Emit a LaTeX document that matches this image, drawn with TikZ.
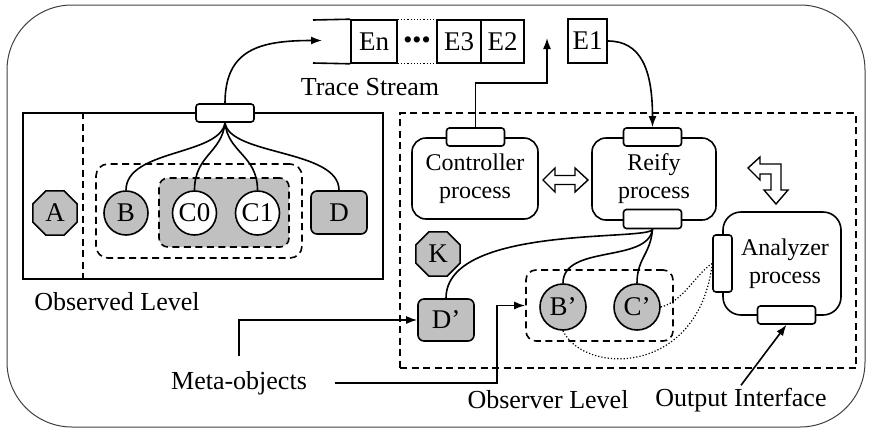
\documentclass[tikz,border=0pt]{standalone}
\usepackage{fontspec}
\setmainfont{Liberation Serif}
\usetikzlibrary{arrows.meta,shapes.geometric,calc}
\definecolor{objgray}{RGB}{192,192,192}
\begin{document}
\begin{tikzpicture}[x=1pt,y=-1pt,line width=1.6pt,
  lbl/.style={font=\fontsize{26}{28}\selectfont, inner sep=2pt},
  dsh/.style={dash pattern=on 7pt off 4.5pt},
  port/.style={draw, fill=white, rounded corners=3pt, minimum width=58pt, minimum height=18pt, inner sep=0pt},
  vport/.style={port, minimum width=19pt, minimum height=57pt},
  proc/.style={draw, rounded corners=14pt, align=center, inner sep=0pt, font=\fontsize{24}{28}\selectfont},
  obj/.style={circle, draw, fill=objgray, minimum size=44pt, inner sep=0pt, font=\fontsize{27}{28}\selectfont},
  wobj/.style={obj, fill=white},
  oct/.style={regular polygon, regular polygon sides=8, draw, fill=objgray, minimum size=48pt, inner sep=0pt, font=\fontsize{27}{28}\selectfont},
  gbox/.style={draw, fill=objgray, rounded corners=6pt, minimum width=56pt, minimum height=43pt, inner sep=0pt, font=\fontsize{27}{28}\selectfont},
  cell/.style={draw, minimum height=43pt, inner sep=0pt, font=\fontsize{27}{28}\selectfont},
  arr/.style={-{Latex[length=11pt,width=8pt]}},
  blockarrow/.style={draw, fill=white, line width=1.4pt, line join=miter}
]
\useasboundingbox (0,0) rectangle (871,429);

% outer frame
\draw[line width=1pt, black!75, rounded corners=65pt] (7,5) rectangle (865,427);

% ---------- observed level ----------
\node[draw, minimum width=360pt, minimum height=166pt, inner sep=0pt] (obs) at (203,196) {};
\draw[dsh] ([xshift=-120pt]obs.north) -- ([xshift=-120pt]obs.south);
\node[dsh, draw, rounded corners=12pt, minimum width=206pt, minimum height=94pt] (grpB) at (199,211) {};
\node[dsh, draw, fill=objgray, rounded corners=9pt, minimum width=130pt, minimum height=69pt] (grpC) at (224,212.5) {};

\node[oct] (A) at (55,213) {A};
\node[obj] (B) at (126,213) {B};
\node[wobj] (C0) at (194.5,213) {C0};
\node[wobj] (C1) at (257.5,213) {C1};
\node[gbox] (D) at (339,212.5) {D};

\node[port] (oport) at (225,113) {};
\draw (oport.south) .. controls +(-5,33) and +(0,-41) .. (B.north);
\draw (oport.south) .. controls +(-3,30) and +(0,-35) .. (C0.north);
\draw (oport.south) .. controls +(3,30) and +(0,-35) .. (C1.north);
\draw (oport.south) .. controls +(5,33) and +(0,-41) .. (D.north);

\node[lbl] (obslbl) at (117,302) {Observed Level};

% ---------- trace stream ----------
\node[cell, minimum width=46pt] (En) at (374,41.5) {En};
\node[cell, minimum width=44pt] (E3) at (459,41.5) {E3};
\node[cell, minimum width=43pt] (E2) at (502.5,41.5) {E2};
\node[cell, minimum width=39pt, minimum height=44pt] (E1) at (587.5,41) {E1};
\coordinate (qtop) at (313,20);
\coordinate (qbot) at (313,63);
\draw (qtop) -- (En.north west);
\draw (qbot) -- (En.south west);
\draw[dotted, line width=1.2pt] (En.north east) -- (E3.north west);
\draw[dotted, line width=1.2pt] (En.south east) -- (E3.south west);
\node[lbl, inner sep=0pt] (dots) at (417,43) {\textbullet\textbullet\textbullet};
\node[lbl] (tslbl) at (370,87) {Trace Stream};

\coordinate (tsend) at (322,40.5);
\draw[arr] (oport.north) .. controls +(0,-54) and +(-62,0) .. (tsend);

% ---------- observer level ----------
\node[dsh, draw, minimum width=456pt, minimum height=255pt, inner sep=0pt] (obsr) at (628,240.5) {};

\node[proc, minimum width=126pt, minimum height=81pt] (ctrl) at (475,178.5) {Controller\\process};
\node[proc, minimum width=124pt, minimum height=82pt] (reify) at (654,179) {Reify\\process};
\node[proc, rounded corners=18pt, minimum width=118pt, minimum height=103pt] (anlz) at (782,263.5) {\hspace*{6pt}Analyzer\\\hspace*{6pt}process};

\node[port] (cport) at (475.5,137) {};
\node[port] (rtport) at (652.5,137) {};
\node[port, minimum height=19pt] (rbport) at (652.5,219) {};
\node[vport] (alport) at (722.5,263.5) {};
\node[port] (abport) at (786.5,315) {};

\node[oct] (K) at (438,254) {K};
\node[gbox, minimum height=42pt] (Dp) at (446,320) {D'};
\node[dsh, draw, rounded corners=10pt, minimum width=147pt, minimum height=71pt, inner sep=0pt] (bcbox) at (599.5,305.5) {};
\node[obj, minimum size=46pt] (Bp) at (563,307) {B'};
\node[obj, minimum size=46pt] (Cp) at (637,307) {C'};

% controller output into the stream, stream input to reify
\coordinate (ctend) at (547,38);
\draw[arr] (cport.north) |- ([yshift=-45pt]ctend) -- (ctend);
\draw[arr] (E1.east) .. controls +(33,0) and +(0,-58) .. (rtport.north);

% reify to meta-objects
\draw (rbport.south) .. controls +(-2.5,12) and +(0,-74) .. (Dp.north);
\draw (rbport.south) .. controls +(-5,34) and +(0,-39) .. (Bp.north);
\draw (rbport.south) .. controls +(-2,25) and +(0,-25) .. (Cp.north);

% analyzer inputs
\draw[dotted, line width=1.2pt] (Cp.east) .. controls +(22,-5) and +(-16,10) .. (alport.west);
\draw[dotted, line width=1.2pt] (Bp.south) .. controls +(22,45) and +(-13,112) .. (alport.west);

% block arrows
\draw[blockarrow] (543,180) -- (555,168) -- (555,175.5) -- (575,175.5) -- (575,168) -- (588,180)
  -- (575,192) -- (575,184.5) -- (555,184.5) -- (555,192) -- cycle;
\draw[blockarrow] (748,168) -- (760,157) -- (760,164) -- (781,164) -- (781,190) -- (788,190)
  -- (776,204) -- (764,190) -- (771,190) -- (771,174) -- (760,174) -- (760,180) -- cycle;

% labels
\node[lbl] (Meta) at (239,383) {Meta-objects};
\node[lbl] (obsrlbl) at (548,400) {Observer Level};
\node[lbl] (OI) at (741,400) {Output Interface};

\draw[arr] ([yshift=12pt]Meta.north) |- (Dp.west);
\draw[arr] ([xshift=25pt]Meta.east) -| ([xshift=-28pt]bcbox.west) -- (bcbox.west);
\draw[arr] (OI.north) -- (abport.south);
\end{tikzpicture}
\end{document}
